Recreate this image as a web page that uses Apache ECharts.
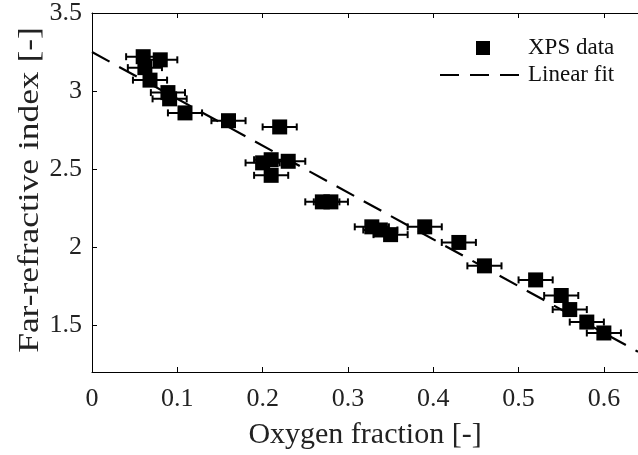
<!DOCTYPE html>
<html>
<head>
<meta charset="utf-8">
<script src="https://cdn.jsdelivr.net/npm/echarts@6/dist/echarts.min.js"></script>
<style>
  html, body { margin: 0; padding: 0; background: #fff; }
  #chart { width: 638px; height: 455px; }
</style>
</head>
<body>
<div id="chart"></div>
<script>
// oxygen fraction of each XPS sample
var oxygen = [0.06, 0.08, 0.062, 0.068, 0.089, 0.091, 0.109, 0.16, 0.22,
  0.20, 0.21, 0.23, 0.21, 0.27, 0.28, 0.328, 0.338, 0.35, 0.39, 0.43,
  0.46, 0.52, 0.55, 0.56, 0.58, 0.60];
// far-refractive index
var index = [3.22, 3.20, 3.15, 3.07, 2.99, 2.95, 2.86, 2.81, 2.77,
  2.54, 2.56, 2.55, 2.46, 2.29, 2.29, 2.13, 2.11, 2.08, 2.13, 2.03,
  1.88, 1.79, 1.69, 1.60, 1.52, 1.45];
// horizontal uncertainty
var xErr = 0.02;
// linear fit
var fitIntercept = 3.25;
var fitSlope = -3.0;
var xTicks = [0, 0.1, 0.2, 0.3, 0.4, 0.5, 0.6];
var yTicks = [1.5, 2, 2.5, 3, 3.5];

var font = 'Liberation Serif';
var points = oxygen.map(function (x, i) { return [x, index[i]]; });
var errData = oxygen.map(function (x, i) { return [x, index[i], xErr]; });
var fitData = [0, 0.64].map(function (x) { return [x, fitIntercept + fitSlope * x]; });

var tickStyle = { inside: true, length: 5, lineStyle: { color: '#000' } };

var myChart = echarts.init(document.getElementById('chart'));
var option = {
  animation: false,
  grid: { left: 92, top: 13, right: 0, bottom: 82 },
  xAxis: [{
    type: 'value', min: 0, max: 0.64,
    name: 'Oxygen fraction [-]', nameLocation: 'middle', nameGap: 48,
    nameTextStyle: { fontFamily: font, fontSize: 30, color: '#222' },
    axisLine: { lineStyle: { color: '#000', width: 1 } },
    axisTick: Object.assign({ customValues: xTicks }, tickStyle),
    axisLabel: { customValues: xTicks, fontFamily: font, fontSize: 26, color: '#222', margin: 14 },
    splitLine: { show: false }
  }, {
    type: 'value', position: 'top', min: 0, max: 0.64,
    axisLine: { lineStyle: { color: '#000', width: 1 } },
    axisTick: Object.assign({ customValues: xTicks }, tickStyle),
    axisLabel: { show: false },
    splitLine: { show: false }
  }],
  yAxis: [{
    type: 'value', min: 1.2, max: 3.5,
    axisLine: { lineStyle: { color: '#000', width: 1 } },
    axisTick: Object.assign({ customValues: yTicks }, tickStyle),
    axisLabel: { customValues: yTicks, fontFamily: font, fontSize: 26, color: '#222', margin: 10 },
    splitLine: { show: false }
  }],
  series: [{
    name: 'Linear fit',
    type: 'line',
    data: fitData,
    symbol: 'none',
    lineStyle: { color: '#000', width: 2.2, type: [20, 11] },
    z: 1
  }, {
    type: 'custom',
    data: errData,
    z: 2,
    renderItem: function (params, api) {
      var x = api.value(0), y = api.value(1), e = api.value(2);
      var a = api.coord([x - e, y]);
      var b = api.coord([x + e, y]);
      var h = 3.5;
      var st = { stroke: '#000', lineWidth: 2 };
      return {
        type: 'group',
        children: [
          { type: 'line', shape: { x1: a[0], y1: a[1], x2: b[0], y2: b[1] }, style: st },
          { type: 'line', shape: { x1: a[0], y1: a[1] - h, x2: a[0], y2: a[1] + h }, style: st },
          { type: 'line', shape: { x1: b[0], y1: b[1] - h, x2: b[0], y2: b[1] + h }, style: st }
        ]
      };
    }
  }, {
    name: 'XPS data',
    type: 'scatter',
    data: points,
    symbol: 'rect',
    symbolSize: 15,
    itemStyle: { color: '#000', opacity: 1 },
    z: 3
  }],
  graphic: [
    // y axis title, drawn a little stretched like the original
    { type: 'text', x: 30, y: 190, rotation: Math.PI / 2, scaleX: 1.18,
      style: { text: 'Far-refractive index [-]', fontFamily: font, fontSize: 30, fill: '#222', align: 'center', verticalAlign: 'middle' } },
    { type: 'rect', shape: { x: 476, y: 41, width: 14, height: 14 }, style: { fill: '#000' } },
    { type: 'text', x: 528, y: 48, style: { text: 'XPS data', fontFamily: font, fontSize: 23, fill: '#111', verticalAlign: 'middle' } },
    { type: 'line', shape: { x1: 440, y1: 75, x2: 520, y2: 75 }, style: { stroke: '#000', lineWidth: 2.2, lineDash: [19, 11] } },
    { type: 'text', x: 528, y: 75, style: { text: 'Linear fit', fontFamily: font, fontSize: 23, fill: '#111', verticalAlign: 'middle' } }
  ]
};
myChart.setOption(option);
window.onresize = function () { myChart.resize(); };
</script>
</body>
</html>
